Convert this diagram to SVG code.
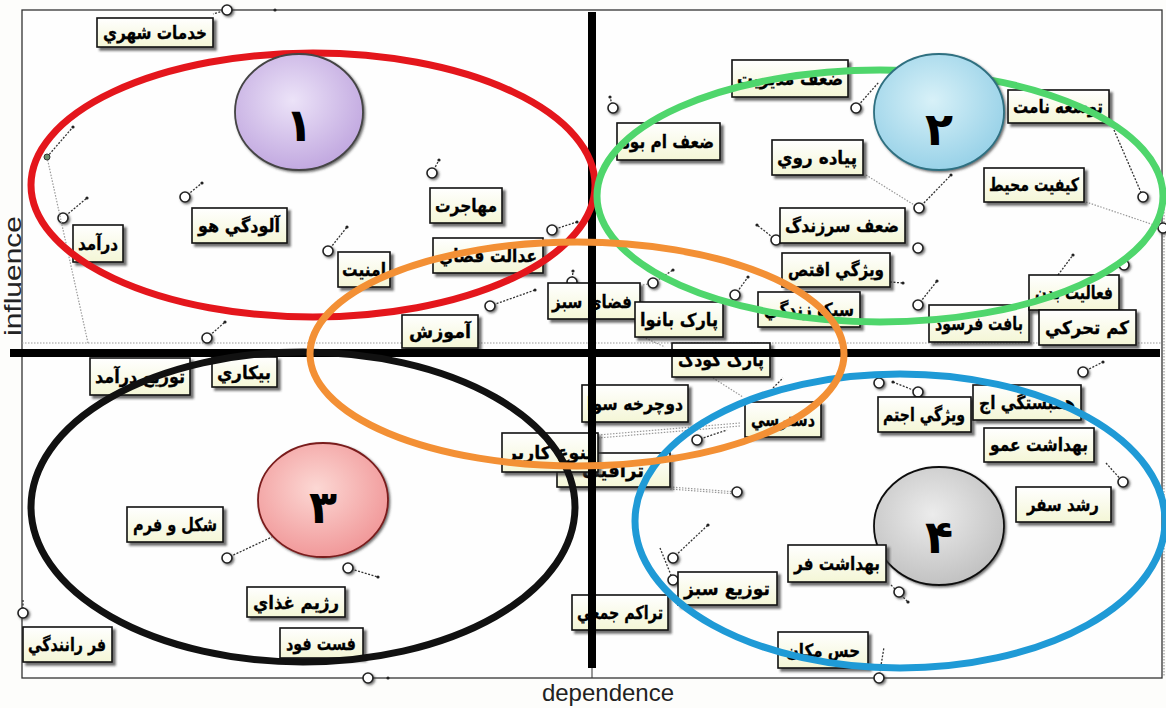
<svg xmlns="http://www.w3.org/2000/svg" width="1166" height="708" viewBox="0 0 1166 708">
<defs>
<filter id="sh" x="-20%" y="-20%" width="150%" height="160%"><feDropShadow dx="3" dy="3" stdDeviation="1" flood-color="#333" flood-opacity="0.7"/></filter>
<filter id="shs" x="-50%" y="-50%" width="200%" height="200%"><feDropShadow dx="1.5" dy="1.5" stdDeviation="0.8" flood-color="#333" flood-opacity="0.7"/></filter>
<linearGradient id="boxg" x1="0" y1="0" x2="0" y2="1"><stop offset="0" stop-color="#ffffff"/><stop offset="1" stop-color="#f4f6d6"/></linearGradient>
<radialGradient id="g1" cx="0.45" cy="0.4" r="0.6"><stop offset="0" stop-color="#ece3f8"/><stop offset="1" stop-color="#c2a9e0"/></radialGradient>
<radialGradient id="g2" cx="0.45" cy="0.4" r="0.6"><stop offset="0" stop-color="#d8f1f8"/><stop offset="1" stop-color="#99d2e8"/></radialGradient>
<radialGradient id="g3" cx="0.45" cy="0.4" r="0.6"><stop offset="0" stop-color="#fcd8d4"/><stop offset="1" stop-color="#f1999a"/></radialGradient>
<radialGradient id="g4" cx="0.45" cy="0.4" r="0.6"><stop offset="0" stop-color="#ececec"/><stop offset="1" stop-color="#c2c2c2"/></radialGradient>
<style>
.box{fill:url(#boxg);stroke:#111;stroke-width:1.6;filter:url(#sh)}
.lbl{font-family:"DejaVu Sans",sans-serif;font-weight:bold;font-size:18px;fill:#000;text-anchor:middle;stroke:#000;stroke-width:0.3}
.ax{stroke:#000;stroke-width:8;fill:none}
.ell{fill:none;stroke-width:7}
.pin{fill:#fff;stroke:#222;stroke-width:1.6;filter:url(#shs)}
.dl{stroke:#333;stroke-width:1.3;stroke-dasharray:2 1.5;fill:none}
.dt{stroke:#999;stroke-width:1.2;stroke-dasharray:1.5 1.5;fill:none}
.end{fill:#222}
.num{font-family:"DejaVu Sans",sans-serif;font-weight:bold;font-size:46px;fill:#000;text-anchor:middle}
.axl{font-family:"Liberation Sans",Arial,sans-serif;font-size:24px;fill:#222;text-anchor:middle}
</style>
</defs>
<rect x="0" y="0" width="1166" height="708" fill="#fdfdfb"/>
<g id="frame">
<rect x="22" y="10" width="1140" height="668" fill="#fefefe" stroke="#333" stroke-width="1.3"/>
<line x1="22" y1="343" x2="1162" y2="343" class="dt" stroke="#888"/>
<line x1="1164" y1="200" x2="1164" y2="676" class="dt"/>
<text class="axl" x="608" y="701">dependence</text>
<text class="axl" transform="translate(21,276) rotate(-90)" font-size="20" textLength="120" lengthAdjust="spacingAndGlyphs">influence</text>
</g>
<g id="connectors">
<line class="dl" x1="227" y1="10" x2="213" y2="14"/><circle class="end" cx="275" cy="10" r="1.6"/><circle class="pin" cx="227" cy="10" r="5"/>
<line class="dl" x1="63" y1="218" x2="87" y2="198"/><circle class="end" cx="87" cy="198" r="1.6"/><circle class="pin" cx="63" cy="218" r="5"/>
<line class="dl" x1="185" y1="197" x2="202" y2="183"/><circle class="end" cx="202" cy="183" r="1.6"/><circle class="pin" cx="185" cy="197" r="5"/>
<line class="dt" x1="47" y1="157" x2="88" y2="343"/><line class="dl" x1="47" y1="157" x2="73" y2="127"/><circle class="end" cx="73" cy="127" r="1.6"/><circle cx="47" cy="157" r="3" fill="#6a8a6a" stroke="#333"/>
<line class="dl" x1="328" y1="251" x2="347" y2="227"/><circle class="end" cx="347" cy="227" r="1.6"/><circle class="pin" cx="328" cy="251" r="5"/>
<line class="dl" x1="207" y1="338" x2="225" y2="322"/><circle class="end" cx="225" cy="322" r="1.6"/><circle class="pin" cx="207" cy="338" r="5"/>
<line class="dl" x1="613" y1="108" x2="610" y2="97"/><circle class="end" cx="610" cy="97" r="1.6"/><circle class="pin" cx="613" cy="108" r="5"/>
<line class="dl" x1="432" y1="173" x2="439" y2="160"/><circle class="end" cx="439" cy="160" r="1.6"/><circle class="pin" cx="432" cy="173" r="5"/>
<line class="dl" x1="552" y1="230" x2="577" y2="222"/><circle class="end" cx="577" cy="222" r="1.6"/><circle class="pin" cx="552" cy="230" r="5"/>
<line class="dl" x1="776" y1="240" x2="757" y2="225"/><circle class="end" cx="757" cy="225" r="1.6"/><circle class="pin" cx="776" cy="240" r="5"/>
<line class="dl" x1="856" y1="108" x2="879" y2="82"/><circle class="pin" cx="856" cy="108" r="5"/>
<line class="dt" x1="866" y1="175" x2="919" y2="208"/><line class="dl" x1="919" y1="208" x2="951" y2="175"/><circle class="end" cx="951" cy="175" r="1.6"/><circle class="pin" cx="919" cy="208" r="5"/>
<line class="dl" x1="1114" y1="130" x2="1143" y2="197"/><circle class="pin" cx="1143" cy="197" r="5"/>
<line class="dt" x1="1086" y1="202" x2="1163" y2="228"/><circle class="pin" cx="1163" cy="228" r="5"/>
<circle class="pin" cx="918" cy="248" r="5"/>
<line class="dl" x1="735" y1="295" x2="748" y2="277"/><circle class="end" cx="748" cy="277" r="1.6"/><circle class="pin" cx="735" cy="295" r="5"/>
<line class="dl" x1="918" y1="305" x2="937" y2="281"/><circle class="end" cx="937" cy="281" r="1.6"/><circle class="pin" cx="918" cy="305" r="5"/>
<line class="dl" x1="890" y1="282" x2="903" y2="283"/><circle class="end" cx="903" cy="283" r="1.6"/>
<line class="dl" x1="1058" y1="275" x2="1073" y2="255"/><circle class="end" cx="1073" cy="255" r="1.6"/><circle class="pin" cx="1124" cy="265" r="5"/>
<line class="dl" x1="1083" y1="372" x2="1103" y2="362"/><circle class="end" cx="1103" cy="362" r="1.6"/><circle class="pin" cx="1083" cy="372" r="5"/>
<circle class="pin" cx="879" cy="383" r="5"/>
<line class="dl" x1="893" y1="382" x2="918" y2="392"/><circle class="end" cx="893" cy="382" r="1.6"/><circle class="pin" cx="918" cy="392" r="5"/>
<line class="dl" x1="490" y1="306" x2="535" y2="290"/><circle class="end" cx="535" cy="290" r="1.6"/><circle class="pin" cx="490" cy="306" r="5"/>
<line class="dl" x1="572" y1="282" x2="573" y2="271"/><circle class="end" cx="573" cy="271" r="1.6"/><circle class="pin" cx="572" cy="282" r="5"/>
<line class="dt" x1="643" y1="285" x2="653" y2="283"/><line class="dl" x1="653" y1="283" x2="673" y2="270"/><circle class="end" cx="673" cy="270" r="1.6"/><circle class="pin" cx="653" cy="283" r="5"/>
<line class="dt" x1="643" y1="337" x2="665" y2="347"/>
<line class="dt" x1="713" y1="378" x2="743" y2="397"/>
<line class="dt" x1="598" y1="435" x2="740" y2="423"/><line class="dt" x1="598" y1="438" x2="740" y2="426"/><line class="dl" x1="697" y1="440" x2="727" y2="430"/><circle class="pin" cx="697" cy="440" r="5"/>
<line class="dt" x1="670" y1="487" x2="737" y2="492"/><line class="dt" x1="670" y1="489" x2="737" y2="494"/><circle class="pin" cx="737" cy="492" r="5"/>
<line class="dl" x1="773" y1="388" x2="783" y2="378"/>
<line class="dl" x1="673" y1="558" x2="708" y2="525"/><circle class="end" cx="708" cy="525" r="1.6"/><circle class="pin" cx="673" cy="558" r="5"/>
<line class="dl" x1="660" y1="548" x2="673" y2="580"/><circle class="pin" cx="673" cy="580" r="5"/>
<line class="dl" x1="227" y1="558" x2="272" y2="537"/><circle class="pin" cx="227" cy="558" r="5"/>
<line class="dl" x1="348" y1="568" x2="378" y2="577"/><circle class="end" cx="378" cy="577" r="1.6"/><circle class="pin" cx="348" cy="568" r="5"/>
<line class="dl" x1="23" y1="600" x2="23" y2="613"/><circle class="pin" cx="23" cy="613" r="5"/>
<circle class="end" cx="388" cy="678" r="1.6"/><circle class="pin" cx="368" cy="678" r="5"/>
<line class="dl" x1="1106" y1="463" x2="1123" y2="482"/><circle class="pin" cx="1123" cy="482" r="5"/>
<line class="dl" x1="891" y1="585" x2="908" y2="602"/><circle class="end" cx="908" cy="602" r="1.6"/><circle class="pin" cx="899" cy="592" r="5"/>
<line class="dl" x1="879" y1="678" x2="884" y2="647"/><circle class="pin" cx="879" cy="678" r="5"/>
</g>
<g id="node-4"><ellipse cx="939" cy="526" rx="65" ry="59" fill="url(#g4)" stroke="#111" stroke-width="1.8" filter="url(#shs)"/><text class="num" x="939" y="553">۴</text></g>
<g id="labels">
<g id="n-khadamat"><rect class="box" x="97" y="18" width="116" height="29"/><text class="lbl" x="155" y="39" textLength="104" lengthAdjust="spacingAndGlyphs">خدمات شهري</text></g>
<g id="n-daramad"><rect class="box" x="73" y="225" width="50" height="37"/><text class="lbl" x="98" y="250" textLength="40" lengthAdjust="spacingAndGlyphs">درآمد</text></g>
<g id="n-aloodegi"><rect class="box" x="192" y="208" width="95" height="35"/><text class="lbl" x="239" y="232" textLength="82" lengthAdjust="spacingAndGlyphs">آلودگي هو</text></g>
<g id="n-mohajerat"><rect class="box" x="430" y="188" width="72" height="35"/><text class="lbl" x="466" y="212" textLength="62" lengthAdjust="spacingAndGlyphs">مهاجرت</text></g>
<g id="n-amniat"><rect class="box" x="338" y="252" width="52" height="35"/><text class="lbl" x="364" y="276" textLength="44" lengthAdjust="spacingAndGlyphs">امنيت</text></g>
<g id="n-edalat"><rect class="box" x="433" y="238" width="110" height="35"/><text class="lbl" x="488" y="262" textLength="98" lengthAdjust="spacingAndGlyphs">عدالت فضاي</text></g>
<g id="n-fazasabz"><rect class="box" x="548" y="283" width="92" height="36"/><text class="lbl" x="592" y="308" textLength="80" lengthAdjust="spacingAndGlyphs">فضاي سبز</text></g>
<g id="n-parkbanoan"><rect class="box" x="635" y="302" width="88" height="35"/><text class="lbl" x="679" y="326" textLength="78" lengthAdjust="spacingAndGlyphs">پارک بانوا</text></g>
<g id="n-amoozesh"><rect class="box" x="402" y="315" width="76" height="33"/><text class="lbl" x="440" y="338" textLength="62" lengthAdjust="spacingAndGlyphs">آموزش</text></g>
<g id="n-tozidaramad"><rect class="box" x="90" y="358" width="100" height="37"/><text class="lbl" x="140" y="383" textLength="90" lengthAdjust="spacingAndGlyphs">توزيع درآمد</text></g>
<g id="n-bikari"><rect class="box" x="212" y="357" width="65" height="30"/><text class="lbl" x="244" y="379" textLength="54" lengthAdjust="spacingAndGlyphs">بيکاري</text></g>
<g id="n-parkkoodak"><rect class="box" x="672" y="343" width="98" height="34"/><text class="lbl" x="721" y="366" textLength="86" lengthAdjust="spacingAndGlyphs">پارک کودک</text></g>
<g id="n-docharkhe"><rect class="box" x="582" y="385" width="106" height="37"/><text class="lbl" x="635" y="410" textLength="96" lengthAdjust="spacingAndGlyphs">دوچرخه سوا</text></g>
<g id="n-terafik"><rect class="box" x="557" y="453" width="113" height="34"/><text class="lbl" x="613" y="477" textLength="62" lengthAdjust="spacingAndGlyphs">ترافيک</text></g>
<g id="n-tanavo"><rect class="box" x="502" y="433" width="96" height="39"/><text class="lbl" x="550" y="459" textLength="86" lengthAdjust="spacingAndGlyphs">تنوع کاربر</text></g>
<g id="n-dastrasi"><rect class="box" x="745" y="402" width="76" height="35"/><text class="lbl" x="783" y="426" textLength="64" lengthAdjust="spacingAndGlyphs">دسترسي</text></g>
<g id="n-vizhegiejt"><rect class="box" x="878" y="397" width="93" height="35"/><text class="lbl" x="924" y="421" textLength="82" lengthAdjust="spacingAndGlyphs">ويژگي اجتم</text></g>
<g id="n-hambastegi"><rect class="box" x="973" y="385" width="108" height="35"/><text class="lbl" x="1027" y="409" textLength="96" lengthAdjust="spacingAndGlyphs">همبستگي اج</text></g>
<g id="n-behdashtomo"><rect class="box" x="984" y="428" width="110" height="34"/><text class="lbl" x="1039" y="451" textLength="98" lengthAdjust="spacingAndGlyphs">بهداشت عمو</text></g>
<g id="n-roshdsafar"><rect class="box" x="1016" y="487" width="95" height="35"/><text class="lbl" x="1063" y="511" textLength="72" lengthAdjust="spacingAndGlyphs">رشد سفر</text></g>
<g id="n-behdashtfard"><rect class="box" x="788" y="545" width="98" height="37"/><text class="lbl" x="837" y="570" textLength="86" lengthAdjust="spacingAndGlyphs">بهداشت فر</text></g>
<g id="n-tozisabz"><rect class="box" x="678" y="572" width="99" height="33"/><text class="lbl" x="727" y="595" textLength="86" lengthAdjust="spacingAndGlyphs">توزيع سبز</text></g>
<g id="n-tarakom"><rect class="box" x="572" y="595" width="96" height="35"/><text class="lbl" x="620" y="619" textLength="86" lengthAdjust="spacingAndGlyphs">تراکم جمعي</text></g>
<g id="n-hesmakan"><rect class="box" x="778" y="632" width="90" height="36"/><text class="lbl" x="823" y="657" textLength="74" lengthAdjust="spacingAndGlyphs">حس مکان</text></g>
<g id="n-fastfood"><rect class="box" x="280" y="628" width="83" height="30"/><text class="lbl" x="321" y="650" textLength="70" lengthAdjust="spacingAndGlyphs">فست فود</text></g>
<g id="n-rezhim"><rect class="box" x="247" y="587" width="98" height="30"/><text class="lbl" x="296" y="609" textLength="86" lengthAdjust="spacingAndGlyphs">رژيم غذاي</text></g>
<g id="n-shekl"><rect class="box" x="127" y="507" width="96" height="35"/><text class="lbl" x="175" y="531" textLength="84" lengthAdjust="spacingAndGlyphs">شکل و فرم</text></g>
<g id="n-farranandegi"><rect class="box" x="23" y="627" width="89" height="35"/><text class="lbl" x="67" y="651" textLength="78" lengthAdjust="spacingAndGlyphs">فر رانندگي</text></g>
<g id="n-zafambood"><rect class="box" x="617" y="123" width="103" height="37"/><text class="lbl" x="668" y="148" textLength="92" lengthAdjust="spacingAndGlyphs">ضعف ام بود</text></g>
<g id="n-zafmodiriat"><rect class="box" x="732" y="60" width="116" height="37"/><text class="lbl" x="790" y="85" textLength="106" lengthAdjust="spacingAndGlyphs">ضعف مديريت</text></g>
<g id="n-tosee"><rect class="box" x="1008" y="90" width="101" height="33"/><text class="lbl" x="1058" y="113" textLength="90" lengthAdjust="spacingAndGlyphs">توسعه نامت</text></g>
<g id="n-piade"><rect class="box" x="772" y="140" width="91" height="35"/><text class="lbl" x="817" y="164" textLength="80" lengthAdjust="spacingAndGlyphs">پياده روي</text></g>
<g id="n-keifiat"><rect class="box" x="984" y="168" width="100" height="34"/><text class="lbl" x="1034" y="191" textLength="90" lengthAdjust="spacingAndGlyphs">کيفيت محيط</text></g>
<g id="n-zafsarzendegi"><rect class="box" x="780" y="208" width="125" height="35"/><text class="lbl" x="842" y="232" textLength="114" lengthAdjust="spacingAndGlyphs">ضعف سرزندگ</text></g>
<g id="n-vizhegieqt"><rect class="box" x="782" y="253" width="108" height="34"/><text class="lbl" x="836" y="276" textLength="96" lengthAdjust="spacingAndGlyphs">ويژگي اقتص</text></g>
<g id="n-sabk"><rect class="box" x="758" y="292" width="102" height="35"/><text class="lbl" x="809" y="316" textLength="90" lengthAdjust="spacingAndGlyphs">سبک زندگي</text></g>
<g id="n-baft"><rect class="box" x="929" y="305" width="100" height="37"/><text class="lbl" x="979" y="330" textLength="88" lengthAdjust="spacingAndGlyphs">بافت فرسود</text></g>
<g id="n-faaliat"><rect class="box" x="1029" y="275" width="90" height="35"/><text class="lbl" x="1074" y="299" textLength="78" lengthAdjust="spacingAndGlyphs">فعاليت بدن</text></g>
<g id="n-kamtahaRoki"><rect class="box" x="1039" y="310" width="97" height="35"/><text class="lbl" x="1087" y="334" textLength="84" lengthAdjust="spacingAndGlyphs">کم تحرکي</text></g>
</g>
<g id="axes">
<line class="ax" x1="10" y1="353" x2="1160" y2="353"/>
<line class="ax" x1="592" y1="12" x2="592" y2="668" stroke-width="7"/>
<line x1="592" y1="668" x2="592" y2="678" stroke="#333" stroke-width="1"/>
</g>
<g id="clusters">
<ellipse class="ell" cx="313" cy="185" rx="282" ry="132" stroke="#e4161c"/>
<ellipse class="ell" cx="880" cy="196" rx="283" ry="126" stroke="#4fd66c"/>
<ellipse class="ell" cx="303" cy="507" rx="272" ry="155" stroke="#111" stroke-width="8"/>
<ellipse class="ell" cx="900" cy="521" rx="265" ry="147" stroke="#1f9ad6"/>
<ellipse class="ell" cx="577" cy="354" rx="267" ry="112" stroke="#f39035" stroke-width="8"/>
</g>
<g id="node-1"><ellipse cx="299" cy="112" rx="64" ry="58" fill="url(#g1)" stroke="#444" stroke-width="1.8" filter="url(#shs)"/><text class="num" x="299" y="141">۱</text></g>
<g id="node-2"><ellipse cx="939" cy="112" rx="65" ry="58" fill="url(#g2)" stroke="#2f6f80" stroke-width="1.8" filter="url(#shs)"/><text class="num" x="939" y="145">۲</text></g>
<g id="node-3"><ellipse cx="323" cy="500" rx="65" ry="57" fill="url(#g3)" stroke="#7a1d1d" stroke-width="1.8" filter="url(#shs)"/><text class="num" x="323" y="523">۳</text></g>
</svg>
